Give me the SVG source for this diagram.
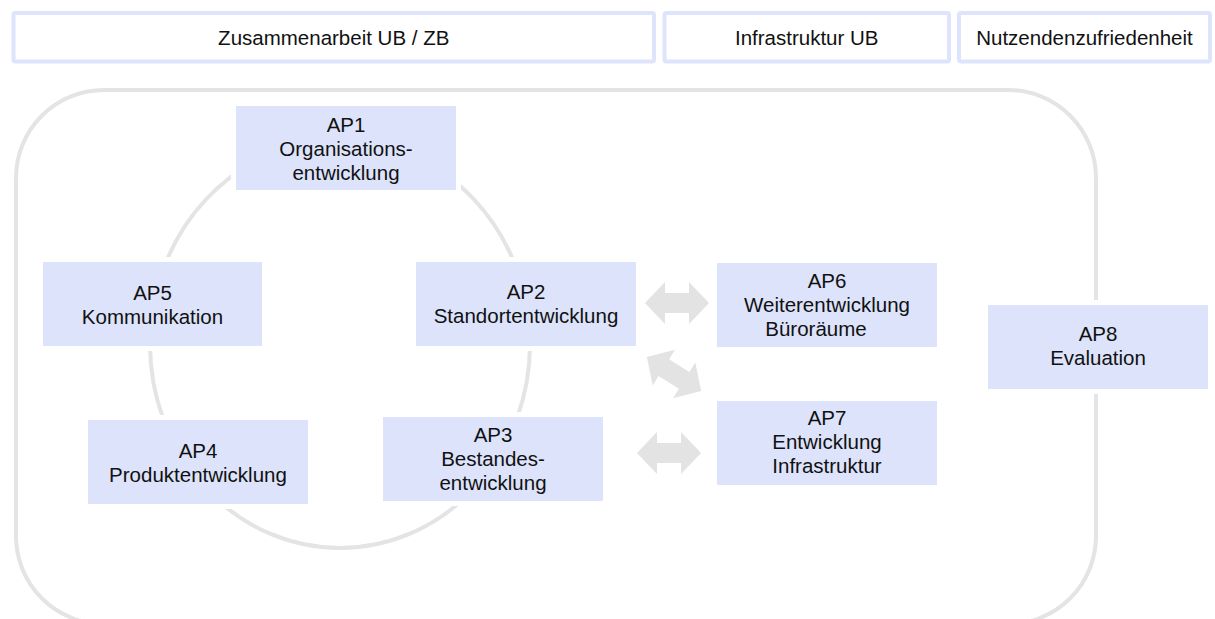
<svg xmlns="http://www.w3.org/2000/svg" width="1215" height="619" viewBox="0 0 1215 619">
<style>
text{font-family:"Liberation Sans",Arial,sans-serif;font-size:20.5px;fill:#111;text-anchor:middle}
.hdr{fill:#fff;stroke:#dde4fb;stroke-width:4}
.node{fill:#dce3fb;stroke:#fff;stroke-width:10;paint-order:stroke}
.ring{fill:none;stroke:#e4e4e4;stroke-width:4}
.arr{fill:#e3e3e3}
</style>
<defs>
<path id="dbl" d="M-32 0 L-12 -21 L-12 -10 L12 -10 L12 -21 L32 0 L12 21 L12 10 L-12 10 L-12 21 Z"/>
</defs>
<rect width="1215" height="619" fill="#fff"/>
<g id="header-zusammenarbeit"><rect class="hdr" x="13.5" y="13" width="640.5" height="48.5" rx="2"/><text x="333.75" y="44.5">Zusammenarbeit UB / ZB</text></g>
<g id="header-infrastruktur"><rect class="hdr" x="664.5" y="13" width="284.5" height="48.5" rx="2"/><text x="806.75" y="44.5">Infrastruktur UB</text></g>
<g id="header-nutzenden"><rect class="hdr" x="959" y="13" width="251" height="48.5" rx="2"/><text x="1084.5" y="44.5">Nutzendenzufriedenheit</text></g>
<g id="connectors">
<rect class="ring" x="16" y="90" width="1080" height="534" rx="88"/>
<ellipse class="ring" cx="340" cy="344" rx="190" ry="204"/>
<use href="#dbl" class="arr" transform="translate(677,303)"/>
<use href="#dbl" class="arr" transform="translate(674,374) rotate(32)"/>
<use href="#dbl" class="arr" transform="translate(669,453)"/>
</g>
<g id="ap1"><rect class="node" x="236" y="106" width="220" height="84"/><text x="346" y="132">AP1</text><text x="346" y="156">Organisations-</text><text x="346" y="180">entwicklung</text></g>
<g id="ap5"><rect class="node" x="43" y="262" width="219" height="84"/><text x="152.5" y="300">AP5</text><text x="152.5" y="324">Kommunikation</text></g>
<g id="ap4"><rect class="node" x="88" y="420" width="220" height="84"/><text x="198" y="458">AP4</text><text x="198" y="482">Produktentwicklung</text></g>
<g id="ap2"><rect class="node" x="416" y="262" width="220" height="84"/><text x="526" y="299">AP2</text><text x="526" y="323">Standortentwicklung</text></g>
<g id="ap3"><rect class="node" x="383" y="417" width="220" height="84"/><text x="493" y="442">AP3</text><text x="493" y="466">Bestandes-</text><text x="493" y="490">entwicklung</text></g>
<g id="ap6"><rect class="node" x="717" y="263" width="220" height="84"/><text x="827" y="288">AP6</text><text x="827" y="312">Weiterentwicklung</text><text x="816" y="336">Büroräume</text></g>
<g id="ap7"><rect class="node" x="717" y="401" width="220" height="84"/><text x="827" y="425">AP7</text><text x="827" y="449">Entwicklung</text><text x="827" y="473">Infrastruktur</text></g>
<g id="ap8"><rect class="node" x="988" y="305" width="220" height="84"/><text x="1098" y="341">AP8</text><text x="1098" y="365">Evaluation</text></g>
</svg>
